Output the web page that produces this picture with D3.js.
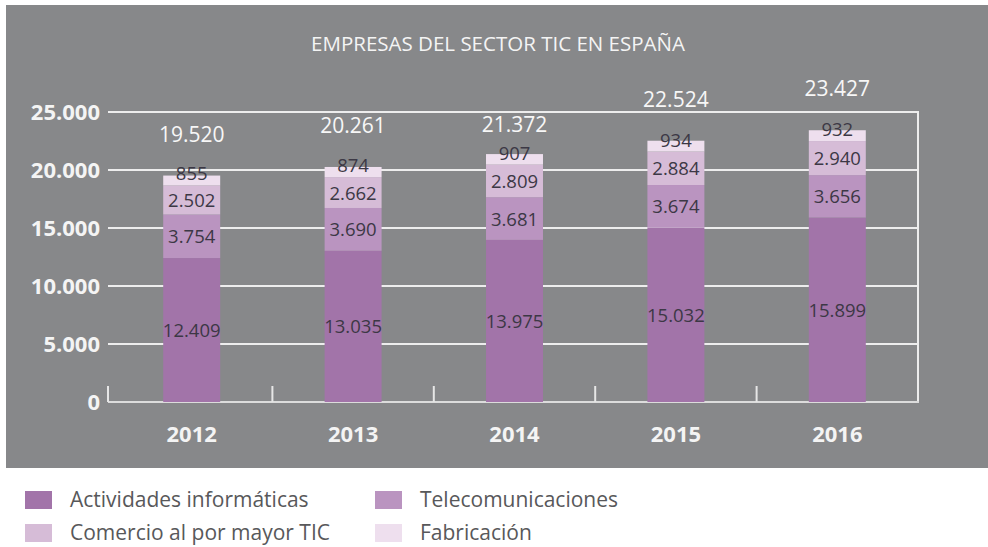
<!DOCTYPE html>
<html><head><meta charset="utf-8">
<script src="https://cdn.jsdelivr.net/npm/d3@7"></script>
<style>
body{margin:0;background:#fff;}
svg{display:block;font-family:"Open Sans",sans-serif;}
</style></head>
<body>
<script>
const years = ["2012","2013","2014","2015","2016"];
const seriesNames = ["Actividades informáticas","Telecomunicaciones","Comercio al por mayor TIC","Fabricación"];
const actividades = [12409,13035,13975,15032,15899];
const telecom = [3754,3690,3681,3674,3656];
const comercio = [2502,2662,2809,2884,2940];
const fabricacion = [855,874,907,934,932];
const totals = [19520,20261,21372,22524,23427];
const yTicks = [0,5000,10000,15000,20000,25000];
const colors = ["#a274a9","#ba94c0","#d6bcd7","#eedfee"];
const title = "EMPRESAS DEL SECTOR TIC EN ESPAÑA";

const W=988,H=547;
const es = d3.formatLocale({decimal:",",thousands:".",grouping:[3],currency:["","€"]});
const fmt = es.format(",d");

const rows = years.map((y,i)=>({year:y,Actividades:actividades[i],Telecom:telecom[i],Comercio:comercio[i],Fabricacion:fabricacion[i],total:totals[i]}));
const keys = ["Actividades","Telecom","Comercio","Fabricacion"];
const stacked = d3.stack().keys(keys)(rows);

const svg = d3.select("body").append("svg").attr("width",W).attr("height",H);
svg.append("rect").attr("x",6).attr("y",5).attr("width",W-6).attr("height",463).attr("fill","#87888a");

const x = d3.scaleBand().domain(years).range([111,918]).paddingInner(0.647).paddingOuter(0.3235);
const xb = d3.scaleBand().domain(years).range([111,918]);
const y = d3.scaleLinear().domain([0,25000]).range([402,112]);

// title
svg.append("text").attr("x",498).attr("y",51).attr("text-anchor","middle")
  .attr("fill","#f4f4f4").attr("font-size",20.5).attr("font-weight",400).text(title);

// gridlines
const grid = svg.append("g");
grid.selectAll("line.g").data(yTicks.filter(d=>d>0)).join("line")
  .attr("x1",108).attr("x2",919).attr("y1",d=>y(d)).attr("y2",d=>y(d))
  .attr("stroke","#ededed").attr("stroke-width",2);
grid.append("line").attr("x1",918).attr("x2",918).attr("y1",y(25000)).attr("y2",y(0)).attr("stroke","#ededed").attr("stroke-width",2);
grid.append("line").attr("x1",108).attr("x2",919).attr("y1",y(0)).attr("y2",y(0)).attr("stroke","#dcdcdc").attr("stroke-width",2);
const bounds = [108].concat(years.slice(1).map(d=>xb(d)));
grid.selectAll("line.t").data(bounds).join("line")
  .attr("x1",d=>d).attr("x2",d=>d).attr("y1",y(0)-16).attr("y2",y(0))
  .attr("stroke","#e6e6e6").attr("stroke-width",2);

// y axis labels
const yAxis = d3.axisLeft(y).tickValues(yTicks).tickFormat(fmt).tickSize(0).tickPadding(0);
const ya = svg.append("g").attr("transform","translate(100,0)").call(yAxis);
ya.select(".domain").remove();
ya.selectAll("text").attr("fill","#f4f4f4").attr("font-size",22).attr("font-weight",700)
  .attr("font-family","'Open Sans',sans-serif").attr("dy","0.35em");

// x axis labels
const xAxis = d3.axisBottom(x).tickSize(0).tickPadding(0);
const xa = svg.append("g").attr("transform","translate(0,425)").call(xAxis);
xa.select(".domain").remove();
xa.selectAll("text").attr("fill","#f4f4f4").attr("font-size",22).attr("font-weight",700)
  .attr("font-family","'Open Sans',sans-serif").attr("dy","0.75em");

// bars
const gb = svg.append("g");
stacked.forEach((s,si)=>{
  gb.selectAll("rect.s"+si).data(s).join("rect")
    .attr("x",d=>x(d.data.year)).attr("width",x.bandwidth())
    .attr("y",d=>y(d[1])).attr("height",d=>y(d[0])-y(d[1]))
    .attr("fill",colors[si]);
});
// segment labels
stacked.forEach((s,si)=>{
  gb.selectAll("text.s"+si).data(s).join("text")
    .attr("x",d=>x(d.data.year)+x.bandwidth()/2)
    .attr("y",d=>{const c=(y(d[0])+y(d[1]))/2; const h=y(d[0])-y(d[1]); return c+Math.min(7,h/2-5);})
    .attr("text-anchor","middle").attr("fill","#3c3845").attr("font-size",18.5)
    .text(d=>fmt(d[1]-d[0]));
});
// total labels
const topGrid = y(25000);
svg.append("g").selectAll("text").data(rows).join("text")
  .attr("x",d=>x(d.year)+x.bandwidth()/2)
  .attr("y",d=>{let b=y(d.total)-34; if(b-16<topGrid+2 && b>topGrid-2) b=topGrid+20; return b;})
  .attr("text-anchor","middle").attr("fill","#f7f7f7").attr("font-size",21)
  .text(d=>fmt(d.total));

// legend
const leg = svg.append("g");
const legPos = [[25,491],[375,491],[25,524],[375,524]];
seriesNames.forEach((n,i)=>{
  const g = leg.append("g").attr("transform",`translate(${legPos[i][0]},${legPos[i][1]})`);
  g.append("rect").attr("width",27).attr("height",18).attr("fill",colors[i]);
  g.append("text").attr("x",45).attr("y",16).attr("fill","#58585a").attr("font-size",21).text(n);
});
</script>
</body></html>
